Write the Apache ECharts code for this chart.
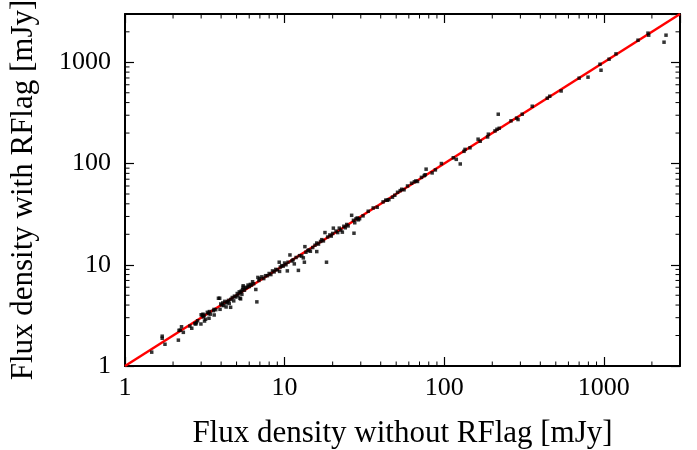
<!DOCTYPE html>
<html>
<head>
<meta charset="utf-8">
<script src="https://cdn.jsdelivr.net/npm/echarts@6/dist/echarts.min.js"></script>
<style>
  html, body { margin: 0; padding: 0; background: #fff; }
  #main { width: 697px; height: 450px; }
</style>
</head>
<body>
<div id="main"></div>
<script>
// flux density without RFlag (x) and with RFlag (y), mJy
const fluxWithout = [
  1.47, 1.71, 1.71, 1.78, 2.16, 2.18, 2.22, 2.26, 2.32, 2.55, 2.62, 2.74, 2.78, 2.80, 2.85, 2.99,
  3.00, 3.05, 3.08, 3.10, 3.13, 3.15, 3.20, 3.28, 3.33, 3.36, 3.38, 3.42, 3.58, 3.61, 3.62, 3.70,
  3.85, 3.92, 3.94, 3.98, 4.05, 4.10, 4.15, 4.22, 4.30, 4.33, 4.40, 4.45, 4.50, 4.59, 4.60, 4.70,
  4.80, 4.85, 4.95, 5.05, 5.10, 5.20, 5.25, 5.30, 5.30, 5.35, 5.40, 5.45, 5.50, 5.50, 5.60, 5.70,
  5.80, 5.90, 6.00, 6.10, 6.20, 6.30, 6.40, 6.60, 6.70, 6.80, 6.90, 7.00, 7.20, 7.40, 7.60, 7.80,
  8.00, 8.20, 8.40, 8.60, 8.80, 9.00, 9.25, 9.30, 9.40, 9.60, 9.80, 10.0, 10.2, 10.4, 10.5, 10.8,
  11.1, 11.3, 11.5, 11.8, 12.2, 12.4, 12.8, 13.1, 13.3, 13.4, 13.6, 14.0, 14.2, 14.5, 15.0, 15.5,
  15.9, 15.9, 16.3, 16.8, 17.1, 17.5, 17.9, 18.3, 18.6, 19.2, 19.6, 20.0, 20.2, 21.0, 21.5, 22.0,
  22.5, 23.0, 23.5, 24.0, 24.5, 25.0, 26.3, 27.0, 27.2, 27.5, 28.0, 28.5, 29.0, 29.5, 31.0, 33.4,
  35.9, 38.0, 41.4, 43.0, 44.0, 45.0, 47.4, 49.0, 51.0, 53.0, 54.2, 56.0, 58.9, 62.4, 65.0, 66.4,
  68.0, 72.0, 75.0, 76.0, 77.0, 84.0, 88.0, 96, 114, 119, 126, 133, 135, 145, 163, 168,
  187, 189, 208, 214, 218, 221, 262, 284, 290, 308, 356, 442, 458, 540, 700, 796,
  946, 960, 1078, 1191, 1637, 1890, 1910, 2383, 2452
];
const fluxWith = [
  1.37, 1.97, 1.88, 1.64, 1.80, 2.25, 2.26, 2.44, 2.15, 2.48, 2.36, 2.62, 2.60, 2.68, 2.80, 2.60,
  3.21, 3.15, 3.25, 3.05, 3.18, 2.78, 2.90, 3.39, 3.30, 2.96, 3.45, 3.25, 3.52, 3.62, 3.19, 3.60,
  4.67, 4.67, 3.63, 4.10, 4.00, 4.20, 3.95, 4.35, 3.83, 4.20, 4.30, 4.45, 4.15, 3.80, 4.55, 4.75,
  4.40, 4.90, 4.80, 5.20, 4.95, 5.40, 4.67, 5.30, 4.60, 5.50, 5.10, 5.70, 6.00, 6.20, 5.60, 5.90,
  6.00, 6.30, 6.10, 6.40, 6.30, 6.80, 6.50, 5.70, 4.30, 7.50, 7.00, 7.30, 7.60, 7.30, 7.80, 7.80,
  8.20, 8.00, 8.70, 8.50, 9.00, 8.90, 10.6, 8.60, 9.50, 9.80, 9.70, 10.4, 10.0, 8.70, 10.6, 12.5,
  10.9, 11.2, 10.2, 11.8, 8.80, 12.3, 12.2, 11.7, 10.6, 15.1, 13.3, 13.8, 14.0, 13.6, 14.8, 15.6,
  16.4, 13.5, 16.0, 17.0, 17.7, 17.2, 20.8, 10.6, 18.8, 19.7, 19.2, 20.4, 23.0, 21.5, 20.8, 23.0,
  22.0, 21.0, 24.0, 23.2, 25.0, 24.2, 30.8, 27.5, 20.5, 26.0, 28.4, 29.0, 27.8, 28.5, 30.4, 33.8,
  36.4, 37.0, 41.8, 43.5, 43.4, 44.0, 46.5, 48.6, 52.0, 54.0, 55.7, 55.0, 60.0, 63.9, 66.0, 67.3,
  66.5, 73.0, 76.0, 77.5, 88.0, 80.8, 86.5, 100, 114, 110, 99, 132, 138, 143, 174, 166,
  183, 195, 210, 218, 307, 223, 264, 281, 272, 307, 368, 442, 462, 521, 697, 713,
  957, 835, 1073, 1211, 1653, 1941, 1853, 1580, 1853
];
// one-to-one reference line
const lineEnds = [1, 3000];
const axisMin = 1;
const axisMax = 3000;
const minorTickValues = [
  2, 3, 4, 5, 6, 7, 8, 9,
  20, 30, 40, 50, 60, 70, 80, 90,
  200, 300, 400, 500, 600, 700, 800, 900,
  2000
];

const chart = echarts.init(document.getElementById('main'));

const fontFamily = 'Liberation Serif';
const majorLen = 9;
const minorLen = 4.5;

function labelFmt(value) {
  const e = Math.log10(value);
  if (Math.abs(e - Math.round(e)) > 1e-6) {
    return '';
  }
  return String(Math.round(value));
}

function logAxis(extra) {
  return Object.assign({
    type: 'log',
    logBase: 10,
    min: axisMin,
    max: axisMax,
    splitLine: {show: false},
    axisLine: {show: true, onZero: false, lineStyle: {color: '#000', width: 2}},
    axisTick: {show: true, inside: true, length: majorLen, lineStyle: {color: '#000', width: 1.2}},
    axisLabel: {
      show: true,
      formatter: labelFmt,
      fontFamily: fontFamily,
      fontSize: 26,
      color: '#000',
      margin: 9,
      showMaxLabel: false,
    },
  }, extra);
}

const points = fluxWithout.map((x, i) => [x, fluxWith[i]]);

const option = {
  animation: false,
  backgroundColor: '#fff',
  grid: {left: 125, right: 17, top: 14, bottom: 84, containLabel: false, outerBoundsMode: 'none'},
  xAxis: [
    logAxis({
      position: 'bottom',
      name: 'Flux density without RFlag [mJy]',
      nameLocation: 'middle',
      nameGap: 52,
      nameTextStyle: {fontFamily: fontFamily, fontSize: 31, color: '#000'},
    }),
    logAxis({position: 'top', axisLabel: {show: false}}),
  ],
  yAxis: [
    logAxis({
      position: 'left',
      name: 'Flux density with RFlag [mJy]',
      nameLocation: 'middle',
      nameGap: 86,
      nameTextStyle: {fontFamily: fontFamily, fontSize: 31, color: '#000'},
      axisLabel: {
        show: true,
        formatter: labelFmt,
        fontFamily: fontFamily,
        fontSize: 26,
        color: '#000',
        margin: 14,
        showMaxLabel: false,
      },
    }),
    logAxis({position: 'right', axisLabel: {show: false}}),
  ],
  series: [
    {
      type: 'line',
      data: [[lineEnds[0], lineEnds[0]], [lineEnds[1], lineEnds[1]]],
      symbol: 'none',
      lineStyle: {color: '#ff0000', width: 2.5},
      z: 2,
      silent: true,
    },
    {
      type: 'scatter',
      data: points,
      symbol: 'rect',
      symbolSize: 3.5,
      itemStyle: {color: '#000'},
      z: 3,
      silent: true,
    },
    {
      // minor log ticks on all four sides
      type: 'custom',
      data: minorTickValues.map((v) => [v, v]),
      clip: false,
      silent: true,
      z: 4,
      renderItem: function (params, api) {
        const v = api.value(0);
        const b = api.coord([v, axisMin]);
        const t = api.coord([v, axisMax]);
        const l = api.coord([axisMin, v]);
        const r = api.coord([axisMax, v]);
        const style = {stroke: '#000', lineWidth: 1};
        return {
          type: 'group',
          children: [
            {type: 'line', shape: {x1: b[0], y1: b[1], x2: b[0], y2: b[1] - minorLen}, style: style},
            {type: 'line', shape: {x1: t[0], y1: t[1], x2: t[0], y2: t[1] + minorLen}, style: style},
            {type: 'line', shape: {x1: l[0], y1: l[1], x2: l[0] + minorLen, y2: l[1]}, style: style},
            {type: 'line', shape: {x1: r[0], y1: r[1], x2: r[0] - minorLen, y2: r[1]}, style: style},
          ]
        };
      }
    }
  ]
};

chart.setOption(option);
</script>
</body>
</html>
